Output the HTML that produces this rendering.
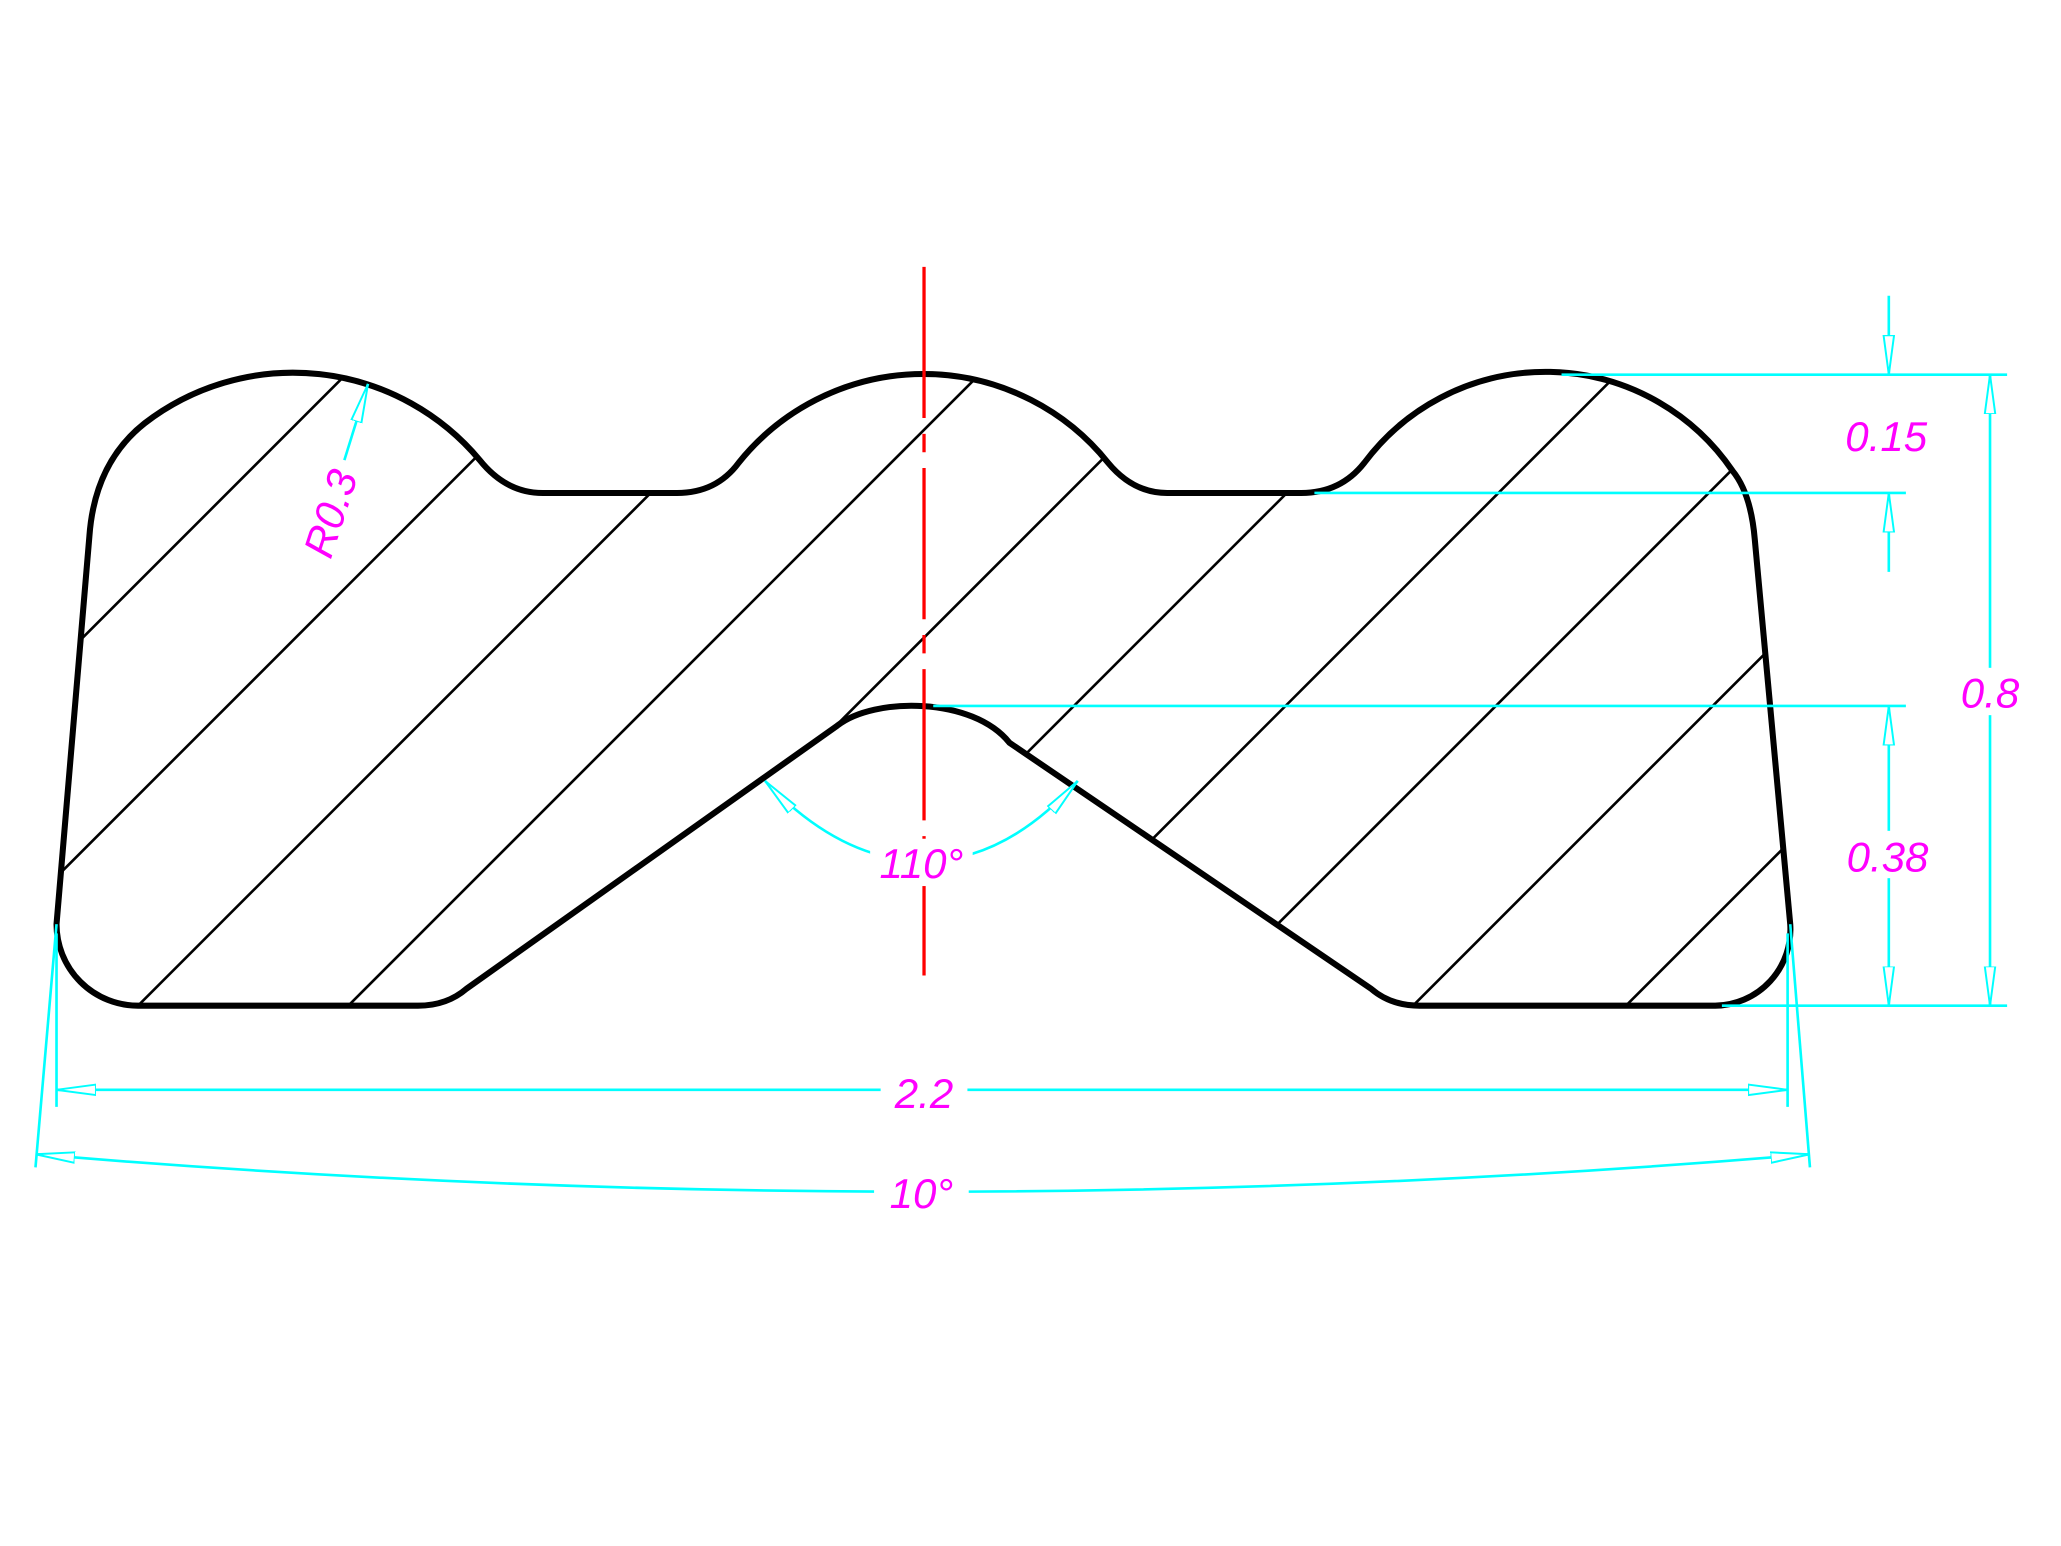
<!DOCTYPE html>
<html><head><meta charset="utf-8"><style>
html,body{margin:0;padding:0;background:#fff;overflow:hidden;width:2061px;height:1546px;position:relative;}
svg{display:block;position:absolute;left:0;top:0;}
text{font-family:"Liberation Sans",sans-serif;font-style:italic;fill:#ff00ff;font-size:32px;text-anchor:middle;}
</style></head><body>
<svg width="2061" height="1546" viewBox="0 0 1568 1176" preserveAspectRatio="none" xmlns="http://www.w3.org/2000/svg">
<defs>
<marker id="a" viewBox="0 0 30 10" refX="30" refY="5" markerWidth="30" markerHeight="10" markerUnits="userSpaceOnUse" orient="auto-start-reverse">
<path d="M0,1 L30,5 L0,9 Z" fill="#fff" stroke="#00ffff" stroke-width="1.5"/>
</marker>
<clipPath id="c"><path id="shp" d="M43,703 A62,62 0 0 0 105,765 L318,765 Q340,765 355,752 L637,552 C665,530 740,530 768,565 L1043,752 Q1058,765 1080,765 L1305,765 A58,58 0 0 0 1362,703 L1335,410 Q1332,375 1318,358 A172,172 0 0 0 1038,352 Q1020,375 990,375 L888,375 Q862,375 843,352 A180,180 0 0 0 562,352 Q545,375 515,375 L413,375 Q385,375 365,350 A185,185 0 0 0 110,322 Q72,352 68,408 Z"/></clipPath>
</defs>
<g clip-path="url(#c)" stroke="#000" stroke-width="2">
<line x1="0" y1="548" x2="548" y2="0"/>
<line x1="0" y1="710" x2="710" y2="0"/>
<line x1="0" y1="870" x2="870" y2="0"/>
<line x1="0" y1="1030" x2="1030" y2="0"/>
<line x1="0" y1="1188" x2="1188" y2="0"/>
<line x1="0" y1="1354" x2="1354" y2="0"/>
<line x1="0" y1="1515" x2="1515" y2="0"/>
<line x1="0" y1="1675" x2="1675" y2="0"/>
<line x1="0" y1="1840" x2="1840" y2="0"/>
<line x1="0" y1="2002" x2="2002" y2="0"/>
</g>
<use href="#shp" fill="none" stroke="#000" stroke-width="4.6"/>
<line x1="703" y1="203" x2="703" y2="742" stroke="#ff0000" stroke-width="2.5" stroke-dasharray="115 12 14 12"/>
<g stroke="#00ffff" stroke-width="2" fill="none">
<line x1="1188" y1="285" x2="1527" y2="285"/>
<line x1="1000" y1="375" x2="1450" y2="375"/>
<line x1="710" y1="537" x2="1450" y2="537"/>
<line x1="1310" y1="765" x2="1527" y2="765"/>
<line x1="1437" y1="225" x2="1437" y2="285" marker-end="url(#a)"/>
<line x1="1437" y1="435" x2="1437" y2="375" marker-end="url(#a)"/>
<line x1="1514" y1="285" x2="1514" y2="765" marker-start="url(#a)" marker-end="url(#a)"/>
<line x1="1437" y1="537" x2="1437" y2="765" marker-start="url(#a)" marker-end="url(#a)"/>
<line x1="43" y1="710" x2="43" y2="842"/>
<line x1="1360" y1="710" x2="1360" y2="842"/>
<line x1="43" y1="829" x2="1360" y2="829" marker-start="url(#a)" marker-end="url(#a)"/>
<line x1="43" y1="703" x2="27" y2="888"/>
<line x1="1362" y1="703" x2="1377" y2="888"/>
<path d="M27,878 Q703,935 1377,878" marker-start="url(#a)" marker-end="url(#a)"/>
<path d="M582,594 Q640,655 703,655 Q765,655 820,594" marker-start="url(#a)" marker-end="url(#a)"/>
<line x1="262" y1="350" x2="280" y2="292" marker-end="url(#a)"/>
</g>
<g>
<rect x="1395" y="312" width="80" height="36" fill="#fff"/>
<text x="1435" y="343">0.15</text>
<rect x="1480" y="508" width="68" height="36" fill="#fff"/>
<text x="1514" y="538">0.8</text>
<rect x="1395" y="632" width="84" height="36" fill="#fff"/>
<text x="1436" y="663">0.38</text>
<rect x="670" y="812" width="66" height="36" fill="#fff"/>
<text x="703" y="843">2.2</text>
<rect x="665" y="890" width="72" height="36" fill="#fff"/>
<text x="701" y="919">10°</text>
<rect x="662" y="638" width="78" height="36" fill="#fff"/>
<text x="701" y="668">110°</text>
<text x="0" y="0" transform="translate(262,394) rotate(-72)">R0.3</text>
</g>
</svg>
</body></html>
